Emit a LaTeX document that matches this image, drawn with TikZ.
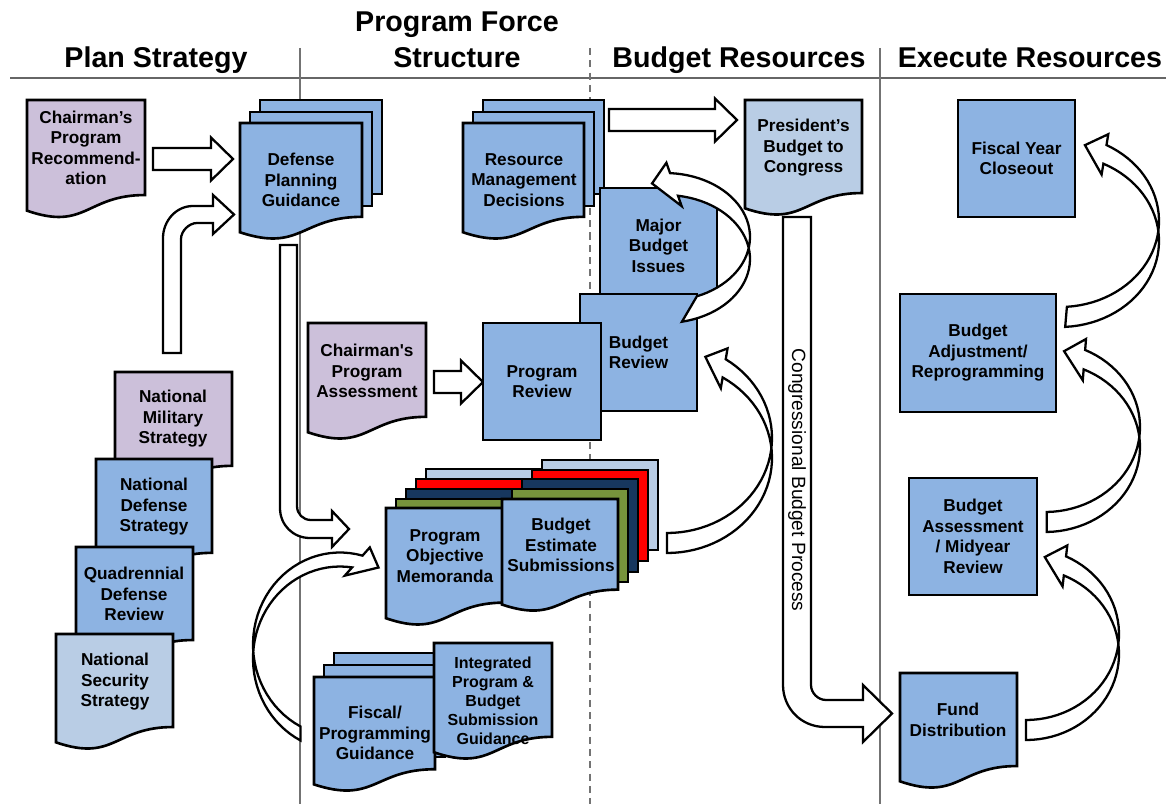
\documentclass[tikz,border=0pt]{standalone}
\usepackage{fontspec}
\setmainfont{Liberation Sans}
\usepackage{tikz}
\definecolor{boxblue}{HTML}{8DB3E2}
\definecolor{paleblue}{HTML}{B9CDE5}
\definecolor{lilac}{HTML}{CCC0DA}
\definecolor{navy}{HTML}{17375E}
\definecolor{olive}{HTML}{77933C}
\newcommand\pxu{0.02cm} % one pixel of the sketch
\newcommand\nodefont{\fontsize{9.8}{11.7}\selectfont\bfseries}
\newcommand\smallfont{\fontsize{9.1}{10.8}\selectfont\bfseries}
\tikzset{
x=0.02cm, y=-0.02cm, % coordinates are sketch pixels, y runs down
box/.style={draw=black, line width=1.5pt, fill=boxblue}, % every sheet and box
rbox/.style={box, rectangle, inner sep=0pt, align=center, font=\nodefont},
txt/.style={align=center, inner sep=0pt, font=\nodefont},
blockarrow/.style={draw=black, fill=white, line width=1.3pt, samples=40},
heading/.style={font=\fontsize{16.3}{20.4}\selectfont\bfseries, inner sep=0pt, align=center},
sepline/.style={draw=black!55, line width=0.6pt},
}
% document sheet with a wavy foot: fill, left, top, width, height
\newcommand\docshape[5][boxblue]{%
  \filldraw[box, fill=#1] (#2,#3) -- ({#2+#4},#3) -- ({#2+#4},{#3+0.802*#5})
    .. controls ({#2+0.5*#4},{#3+0.802*#5}) and ({#2+0.5*#4},{#3+1.107*#5}) .. (#2,{#3+0.934*#5}) -- cycle;}
% plain sheet lying behind a document
\newcommand\sheet[5][boxblue]{%
  \filldraw[box, fill=#1] (#2,#3) rectangle ++(#4,#5);}
% straight block arrow: tail x, tip x, y
\newcommand\hblock[3]{%
  \filldraw[blockarrow] (#1,{#3-11}) -- ({#2-22},{#3-11}) -- ({#2-22},{#3-21.5}) -- (#2,#3)
    -- ({#2-22},{#3+21.5}) -- ({#2-22},{#3+11}) -- (#1,{#3+11}) -- cycle;}
% curved block arrow made of two equal ellipse arcs, the second one dropped by #5
% #1,#2 centre  #3,#4 radii  #6,#7 tail/head angle of first arc  #8,#9 of second arc
\newcommand\crescent[9]{%
  \pgfmathsetmacro\crAx{#1+#3*cos(#7)}%
  \pgfmathsetmacro\crAy{#2+#4*sin(#7)}%
  \pgfmathsetmacro\crBx{#1+#3*cos(#9)}%
  \pgfmathsetmacro\crBy{#2+#5+#4*sin(#9)}%
  \pgfmathsetmacro\crL{veclen(\crAx-\crBx,\crAy-\crBy)}%
  \pgfmathsetmacro\crUx{11*(\crAx-\crBx)/\crL}%
  \pgfmathsetmacro\crUy{11*(\crAy-\crBy)/\crL}%
  \pgfmathsetmacro\crS{sign(#7-#6)}%
  \pgfmathsetmacro\crTx{-(\crS)*#3*sin(#7)}%
  \pgfmathsetmacro\crTy{(\crS)*#4*cos(#7)}%
  \pgfmathsetmacro\crT{veclen(\crTx,\crTy)}%
  \pgfmathsetmacro\crPx{(\crAx+\crBx)/2+22*\crTx/\crT}%
  \pgfmathsetmacro\crPy{(\crAy+\crBy)/2+22*\crTy/\crT}%
  \filldraw[blockarrow] plot[domain=#6:#7] ({#1+#3*cos(\x)},{#2+#4*sin(\x)})
    -- ({\crAx+\crUx},{\crAy+\crUy}) -- (\crPx,\crPy) -- ({\crBx-\crUx},{\crBy-\crUy})
    -- plot[domain=#9:#8] ({#1+#3*cos(\x)},{#2+#5+#4*sin(\x)}) -- cycle;}

\begin{document}
\begin{tikzpicture}
\useasboundingbox (0,0) rectangle (1166,804);

% column rules
\draw[sepline, line width=1.2pt, black!60] (10,78) -- (1166,78);
\draw[sepline] (300,48) -- (300,804);
\draw[sepline, dash pattern=on 4 off 3] (590,48) -- (590,804);
\draw[sepline] (880,48) -- (880,804);

\node[heading, anchor=base] (hplan) at (156,68) {Plan Strategy};
\node[heading] (hprog) at (457,40) {Program Force\\Structure};
\node[heading, anchor=base] (hbudg) at (739,68) {Budget Resources};
\node[heading, anchor=base] (hexec) at (1030,68) {Execute Resources};

% plan strategy
\docshape[lilac]{27}{100}{118}{118.5}
\node[txt] (cpr) at (86,148) {Chairman's\\Program\\Recommend-\\ation};
\docshape[lilac]{115}{372}{117}{117}
\node[txt] (nms) at (173,419) {National\\Military\\Strategy};
\docshape{96}{459}{116}{117}
\node[txt] (nds) at (154,507) {National\\Defense\\Strategy};
\docshape{76}{547}{117}{116}
\node[txt] (qdr) at (134,594) {Quadrennial\\Defense\\Review};
\docshape[paleblue]{56}{634}{117}{116}
\node[txt] (nss) at (115,682) {National\\Security\\Strategy};

\hblock{153}{233}{159}
\filldraw[blockarrow] (163,353) -- (163,238) .. controls (163,221) and (176,206) .. (193,206)
  -- (213,206) -- (213,195) -- (234,214.5) -- (213,234) -- (213,223) -- (197,223)
  .. controls (189,223) and (181,231) .. (181,239) -- (181,353) -- cycle;

% program force structure
\sheet{260}{100}{122}{94}
\sheet{250}{112}{122}{94}
\docshape{240}{123}{122}{117}
\node[txt] (dpg) at (301,180) {Defense\\Planning\\Guidance};

\filldraw[blockarrow] (280,245) -- (280,508) .. controls (280,525) and (293,538) .. (310,538)
  -- (332,538) -- (332,547) -- (349,529) -- (332,511) -- (332,520) -- (311,520)
  .. controls (303,520) and (297,514) .. (297,506) -- (297,245) -- cycle;

\docshape[lilac]{308}{323}{118}{117}
\node[txt] (cpa) at (367,371) {Chairman\textquotesingle s\\Program\\Assessment};
\hblock{434}{483}{382}

\sheet{483}{100}{121}{94}
\sheet{473}{112}{121}{94}
\docshape{463}{123}{121}{117}
\node[txt] (rmd) at (524,180) {Resource\\Management\\Decisions};
\hblock{609}{737}{120}

\node[rbox, minimum width=117*\pxu, minimum height=115*\pxu] (mbi) at (658.5,245.5) {Major\\Budget\\Issues};
\node[rbox, minimum width=117*\pxu, minimum height=117*\pxu] (brv) at (638.5,352.5) {Budget\\Review};
\node[rbox, minimum width=118*\pxu, minimum height=117*\pxu] (prv) at (542,381.5) {Program\\Review};
\crescent{665}{237}{85}{64}{22}{68}{-86.6}{78.5}{-81.2}

\sheet[paleblue]{426}{469}{118}{90}
\sheet[red]{416}{479}{118}{90}
\sheet[navy]{406}{489}{118}{90}
\sheet[olive]{396}{499}{118}{90}
\docshape{386}{508}{118}{118}
\node[txt] (pom) at (445,556) {Program\\Objective\\Memoranda};
\sheet[paleblue]{542}{460}{116}{90}
\sheet[red]{532}{470}{116}{91}
\sheet[navy]{522}{479}{116}{93}
\sheet[olive]{512}{489}{116}{93}
\docshape{502}{499}{116}{113}
\node[txt] (bes) at (561,545) {Budget\\Estimate\\Submissions};

\crescent{667}{438}{105}{95}{20}{90}{-56}{90}{-58}
\crescent{340}{644.5}{87}{92}{14}{117}{285}{117}{278}

\sheet{334}{653}{121}{92}
\sheet{324}{665}{121}{92}
\docshape{314}{677}{121}{115}
\node[txt] (fpg) at (375,733) {Fiscal/\\Programming\\Guidance};
\docshape{434}{643}{118}{117}
\node[txt, font=\smallfont] (ipb) at (493,701) {Integrated\\Program \&\\Budget\\Submission\\Guidance};

% budget resources
\docshape[paleblue]{745}{100}{117}{116}
\node[txt] (pbc) at (803.5,148) {President's\\Budget to\\Congress};
\filldraw[blockarrow] (783,217) -- (783,685) .. controls (783,708) and (801,727) .. (825,727)
  -- (863,727) -- (863,742) -- (892,713.5) -- (863,685) -- (863,700) -- (826,700)
  .. controls (818,700) and (811,693) .. (811,685) -- (811,217) -- cycle;
\node[rotate=-90, inner sep=0pt, font=\fontsize{10.9}{13}\selectfont] (cbp) at (797,480) {Congressional Budget Process};

% execute resources
\node[rbox, minimum width=117*\pxu, minimum height=117*\pxu] (fyc) at (1016.5,158.5) {Fiscal Year\\Closeout};
\node[rbox, minimum width=156*\pxu, minimum height=118*\pxu] (bar) at (978,353) {Budget\\Adjustment/\\Reprogramming};
\node[rbox, minimum width=128*\pxu, minimum height=117*\pxu] (bam) at (973,536.5) {Budget\\Assessment\\/ Midyear\\Review};
\docshape{900}{673}{117}{116}
\node[txt] (fds) at (958,720) {Fund\\Distribution};

\crescent{1060}{221}{99}{86}{20}{86}{-62}{87}{-64}
\crescent{1045}{427}{95}{85}{20}{89}{-65}{89}{-66}
\crescent{1026}{634}{93}{86}{20}{90}{-64.5}{90}{-66}
\end{tikzpicture}
\end{document}
